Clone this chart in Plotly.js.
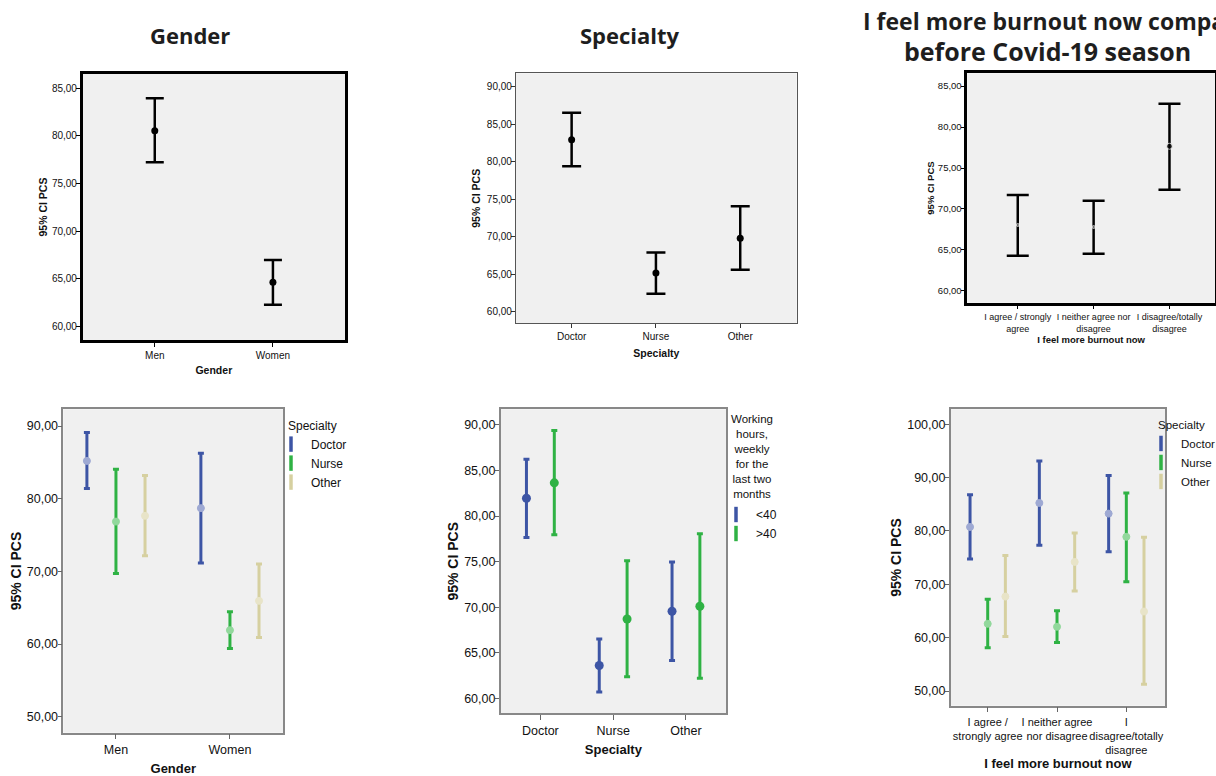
<!DOCTYPE html>
<html>
<head>
<meta charset="utf-8">
<script src="https://cdn.plot.ly/plotly-3.0.1.min.js"></script>
<style>
  html, body { margin: 0; padding: 0; background: #ffffff; overflow: hidden; }
  #chart { width: 1216px; height: 776px; }
</style>
</head>
<body>
<div id="chart"></div>
<script>
// ---------------- DATA (95% CI of PCS: mean, upper, lower) ----------------
// Panel 1: Gender
const genderCats  = ['Men', 'Women'];
const genderMean  = [80.55, 64.65];
const genderUpper = [83.95, 67.00];
const genderLower = [77.25, 62.30];

// Panel 2: Specialty
const specialtyCats  = ['Doctor', 'Nurse', 'Other'];
const specialtyMean  = [82.95, 65.15, 69.80];
const specialtyUpper = [86.55, 67.90, 74.05];
const specialtyLower = [79.40, 62.40, 65.60];

// Panel 3: burnout now vs before Covid-19
const burnoutCats  = ['I agree / strongly<br>agree', 'I neither agree nor<br>disagree', 'I disagree/totally<br>disagree'];
const burnoutMean  = [68.05, 67.80, 77.65];
const burnoutUpper = [71.70, 71.00, 82.85];
const burnoutLower = [64.30, 64.55, 72.35];

// Panel 4: Gender x Specialty
const specialtyNames = ['Doctor', 'Nurse', 'Other'];
const genderDoctorMean  = [85.20, 78.70];
const genderDoctorUpper = [89.10, 86.25];
const genderDoctorLower = [81.40, 71.15];
const genderNurseMean   = [76.85, 61.90];
const genderNurseUpper  = [84.05, 64.45];
const genderNurseLower  = [69.70, 59.40];
const genderOtherMean   = [77.65, 65.95];
const genderOtherUpper  = [83.20, 71.00];
const genderOtherLower  = [72.15, 60.90];

// Panel 5: Specialty x weekly working hours
const hoursTitle = 'Working<br>hours,<br>weekly<br>for the<br>last two<br>months';
const hoursNames = ['<40', '>40'];
const hoursUnder40Mean  = [81.95, 63.60, 69.55];
const hoursUnder40Upper = [86.25, 66.50, 74.95];
const hoursUnder40Lower = [77.65, 60.70, 64.15];
const hoursOver40Mean   = [83.65, 68.70, 70.10];
const hoursOver40Upper  = [89.40, 75.10, 78.05];
const hoursOver40Lower  = [77.95, 62.35, 62.20];

// Panel 6: burnout x Specialty
const burnout2Cats = ['I agree /<br>strongly agree', 'I neither agree<br>nor disagree', 'I<br>disagree/totally<br>disagree'];
const burnDoctorMean  = [80.75, 85.25, 83.25];
const burnDoctorUpper = [86.80, 93.10, 90.40];
const burnDoctorLower = [74.75, 77.30, 76.10];
const burnNurseMean   = [62.60, 62.05, 78.90];
const burnNurseUpper  = [67.20, 65.05, 87.10];
const burnNurseLower  = [58.10, 59.10, 70.50];
const burnOtherMean   = [67.70, 74.20, 64.90];
const burnOtherUpper  = [75.40, 79.60, 78.80];
const burnOtherLower  = [60.20, 68.75, 51.25];

// ---------------- STYLE ----------------
const W = 1216, H = 776;
const SANS = '"Liberation Sans", Arial, sans-serif';
const TITLE_FONT = '"Open Sans", Lato, sans-serif';
const BLUE = '#3d55a5', GREEN = '#2fb244', TAN = '#d6d0a0';
const BLUE_L = '#9ea9d3', GREEN_L = '#92d89c', TAN_L = '#e8e4c8';

function xd(a, b) { return [a / W, b / W]; }
function yd(top, bottom) { return [1 - bottom / H, 1 - top / H]; }

function ciTrace(o) {
  return {
    type: 'scatter', mode: 'markers',
    x: o.x, y: o.mean, xaxis: o.xaxis, yaxis: o.yaxis,
    name: o.name, showlegend: false,
    offsetgroup: o.group, alignmentgroup: o.xaxis,
    marker: o.marker, hoverinfo: 'x+y',
    error_y: {
      type: 'data', symmetric: false, visible: true,
      array: o.upper.map((u, i) => u - o.mean[i]),
      arrayminus: o.lower.map((l, i) => o.mean[i] - l),
      color: o.barColor, thickness: o.thick, width: o.capW
    }
  };
}
// legend-only entry (no visible point) drawn with an error-bar-like "I" symbol
function legendTrace(o) {
  return {
    type: 'scatter', mode: 'markers', x: [null], y: [null],
    xaxis: o.xaxis, yaxis: o.yaxis, name: o.name, legend: o.legend,
    showlegend: true, offsetgroup: o.group, alignmentgroup: o.xaxis,
    marker: { symbol: 'line-ns-open', size: 11, color: o.color, line: { width: 3.5, color: o.color } },
    hoverinfo: 'skip'
  };
}

const traces = [];
// Panel 1
traces.push(ciTrace({ x: genderCats, mean: genderMean, upper: genderUpper, lower: genderLower,
  xaxis: 'x', yaxis: 'y', name: 'Gender', group: 'g1',
  marker: { color: '#000', size: 7 }, barColor: '#000', thick: 2.5, capW: 9 }));
// Panel 2
traces.push(ciTrace({ x: specialtyCats, mean: specialtyMean, upper: specialtyUpper, lower: specialtyLower,
  xaxis: 'x2', yaxis: 'y2', name: 'Specialty', group: 'g1',
  marker: { color: '#000', size: 7 }, barColor: '#000', thick: 2.5, capW: 9.5 }));
// Panel 3
traces.push(ciTrace({ x: burnoutCats, mean: burnoutMean, upper: burnoutUpper, lower: burnoutLower,
  xaxis: 'x3', yaxis: 'y3', name: 'Burnout', group: 'g1',
  marker: { color: ['#8a8a8a', '#8a8a8a', '#000'], size: [3, 3, 6] }, barColor: '#000', thick: 2.5, capW: 11 }));

// Panel 4
const p4 = [
  [genderDoctorMean, genderDoctorUpper, genderDoctorLower, BLUE, BLUE_L],
  [genderNurseMean, genderNurseUpper, genderNurseLower, GREEN, GREEN_L],
  [genderOtherMean, genderOtherUpper, genderOtherLower, TAN, TAN_L]
];
p4.forEach((s, k) => {
  traces.push(ciTrace({ x: genderCats, mean: s[0], upper: s[1], lower: s[2],
    xaxis: 'x4', yaxis: 'y4', name: specialtyNames[k], group: specialtyNames[k],
    marker: { color: s[4], size: 7, line: { width: 1, color: s[4] } }, barColor: s[3], thick: 3, capW: 3 }));
});
p4.forEach((s, k) => traces.push(legendTrace({ xaxis: 'x4', yaxis: 'y4', name: specialtyNames[k], group: specialtyNames[k], legend: 'legend', color: s[3] })));

// Panel 5
const p5 = [
  [hoursUnder40Mean, hoursUnder40Upper, hoursUnder40Lower, BLUE],
  [hoursOver40Mean, hoursOver40Upper, hoursOver40Lower, GREEN]
];
p5.forEach((s, k) => {
  traces.push(ciTrace({ x: specialtyCats, mean: s[0], upper: s[1], lower: s[2],
    xaxis: 'x5', yaxis: 'y5', name: hoursNames[k], group: 'h' + k,
    marker: { color: s[3], size: 9 }, barColor: s[3], thick: 3, capW: 3 }));
});
p5.forEach((s, k) => traces.push(legendTrace({ xaxis: 'x5', yaxis: 'y5', name: hoursNames[k], group: 'h' + k, legend: 'legend2', color: s[3] })));

// Panel 6
const p6 = [
  [burnDoctorMean, burnDoctorUpper, burnDoctorLower, BLUE, BLUE_L],
  [burnNurseMean, burnNurseUpper, burnNurseLower, GREEN, GREEN_L],
  [burnOtherMean, burnOtherUpper, burnOtherLower, TAN, TAN_L]
];
p6.forEach((s, k) => {
  traces.push(ciTrace({ x: burnout2Cats, mean: s[0], upper: s[1], lower: s[2],
    xaxis: 'x6', yaxis: 'y6', name: specialtyNames[k], group: specialtyNames[k],
    marker: { color: s[4], size: 7, line: { width: 1, color: s[4] } }, barColor: s[3], thick: 3, capW: 3 }));
});
p6.forEach((s, k) => traces.push(legendTrace({ xaxis: 'x6', yaxis: 'y6', name: specialtyNames[k], group: specialtyNames[k], legend: 'legend3', color: s[3] })));

// ---------------- AXES ----------------
function xAxis(o) {
  return {
    domain: o.domain, anchor: o.anchor, type: 'category', range: o.range,
    showline: true, mirror: true, linecolor: o.lc, linewidth: o.lw,
    ticks: 'outside', ticklen: o.tl, tickwidth: 1, tickcolor: o.tc, tickangle: 0,
    showgrid: false, zeroline: false, automargin: false, fixedrange: true,
    tickfont: { family: SANS, size: o.tfs, color: '#111' },
    title: { text: '<b>' + o.title + '</b>', font: { family: SANS, size: o.tts, color: '#111' }, standoff: o.standoff }
  };
}
function yAxis(o) {
  return {
    domain: o.domain, anchor: o.anchor, type: 'linear', range: o.range,
    tick0: 0, dtick: o.dtick, tickformat: '.2f',
    showline: true, mirror: true, linecolor: o.lc, linewidth: o.lw,
    ticks: 'outside', ticklen: 4, tickwidth: 1, tickcolor: o.tc, ticklabelstandoff: -3,
    showgrid: false, zeroline: false, automargin: false, fixedrange: true,
    tickfont: { family: SANS, size: o.tfs, color: '#111' },
    title: { text: '<b>95% CI PCS</b>', font: { family: SANS, size: o.tts, color: '#111' }, standoff: o.standoff }
  };
}

const legendBase = (x, y, title, indent, fs) => {
  const lg = {
    x: x / W, y: 1 - y / H, xanchor: 'left', yanchor: 'top',
    bgcolor: 'rgba(0,0,0,0)', borderwidth: 0, itemwidth: 30, indentation: indent,
    font: { family: SANS, size: fs, color: '#111' },
    tracegroupgap: 0, itemclick: false, itemdoubleclick: false
  };
  if (title) lg.title = { text: title, side: 'top', font: { family: SANS, size: fs, color: '#111' } };
  return lg;
};

const layout = {
  width: W, height: H,
  margin: { l: 0, r: 0, t: 0, b: 0, autoexpand: false },
  paper_bgcolor: '#ffffff', plot_bgcolor: '#f0f0f0',
  separators: ',.',
  scattermode: 'group', scattergap: 0.235,
  showlegend: true,
  font: { family: SANS, color: '#111' },
  xaxis:  xAxis({ domain: xd(82.7, 345), anchor: 'y', range: [-0.61, 1.61], lc: '#000', lw: 2.5, tc: '#000', tl: 4, tfs: 10, tts: 10.5, title: 'Gender', standoff: 7 }),
  yaxis:  yAxis({ domain: yd(74, 340), anchor: 'x', range: [58.6, 86.5], dtick: 5, lc: '#000', lw: 2.5, tc: '#000', tfs: 10, tts: 10.5, standoff: 3 }),
  xaxis2: xAxis({ domain: xd(516, 796.7), anchor: 'y2', range: [-0.66, 2.67], lc: '#555', lw: 1.2, tc: '#333', tl: 4, tfs: 10, tts: 10.5, title: 'Specialty', standoff: 8 }),
  yaxis2: yAxis({ domain: yd(73.3, 323.3), anchor: 'x2', range: [58.45, 91.8], dtick: 5, lc: '#555', lw: 1.2, tc: '#333', tfs: 10, tts: 10.5, standoff: 4 }),
  xaxis3: xAxis({ domain: xd(967.3, 1215), anchor: 'y3', range: [-0.665, 2.6], lc: '#000', lw: 2.5, tc: '#000', tl: 4, tfs: 9, tts: 9.5, title: 'I feel more burnout now', standoff: 4 }),
  yaxis3: yAxis({ domain: yd(73.3, 302.7), anchor: 'x3', range: [58.57, 86.55], dtick: 5, lc: '#000', lw: 2.5, tc: '#000', tfs: 9.5, tts: 9.5, standoff: 2 }),
  xaxis4: xAxis({ domain: xd(63.3, 283.3), anchor: 'y4', range: [-0.462, 1.468], lc: '#888', lw: 1.5, tc: '#666', tl: 5, tfs: 12.5, tts: 13, title: 'Gender', standoff: 10 }),
  yaxis4: yAxis({ domain: yd(409.3, 732.7), anchor: 'x4', range: [47.8, 92.3], dtick: 10, lc: '#888', lw: 1.5, tc: '#666', tfs: 12.5, tts: 14, standoff: 2 }),
  xaxis5: xAxis({ domain: xd(500.7, 726), anchor: 'y5', range: [-0.545, 2.55], lc: '#888', lw: 1.5, tc: '#666', tl: 5, tfs: 12.5, tts: 13, title: 'Specialty', standoff: 8 }),
  yaxis5: yAxis({ domain: yd(409.3, 713.3), anchor: 'x5', range: [58.35, 91.72], dtick: 5, lc: '#888', lw: 1.5, tc: '#666', tfs: 12.5, tts: 14, standoff: 2 }),
  xaxis6: xAxis({ domain: xd(950.7, 1165), anchor: 'y6', range: [-0.534, 2.558], lc: '#888', lw: 1.5, tc: '#666', tl: 5, tfs: 11, tts: 13, title: 'I feel more burnout now', standoff: 4 }),
  yaxis6: yAxis({ domain: yd(409.3, 705.7), anchor: 'x6', range: [47.25, 102.8], dtick: 10, lc: '#888', lw: 1.5, tc: '#666', tfs: 12.5, tts: 14, standoff: 2 }),
  legend:  legendBase(286, 414, 'Specialty', -15, 12),
  legend2: legendBase(731, 500, null, -15, 12),
  legend3: legendBase(1156, 414, 'Specialty', -15, 11.5),
  annotations: [
    { text: '<b>Gender</b>', xref: 'paper', yref: 'paper', x: 190.4 / W, y: 1 - 35.5 / H, xanchor: 'center', yanchor: 'middle', showarrow: false, font: { family: TITLE_FONT, size: 22, color: '#1e1e1e' } },
    { text: '<b>Specialty</b>', xref: 'paper', yref: 'paper', x: 630 / W, y: 1 - 35.5 / H, xanchor: 'center', yanchor: 'middle', showarrow: false, font: { family: TITLE_FONT, size: 22, color: '#1e1e1e' } },
    { text: '<b>I feel more burnout now compared to</b>', xref: 'paper', yref: 'paper', x: 862 / W, y: 1 - 21 / H, xanchor: 'left', yanchor: 'middle', showarrow: false, borderpad: 0, font: { family: TITLE_FONT, size: 23, color: '#1e1e1e' } },
    { text: '<b>before Covid-19 season</b>', xref: 'paper', yref: 'paper', x: 1047.5 / W, y: 1 - 51 / H, xanchor: 'center', yanchor: 'middle', showarrow: false, borderpad: 0, font: { family: TITLE_FONT, size: 25, color: '#1e1e1e' } },
    // legend title of panel 5 (centred, multi-line)
    { text: hoursTitle, xref: 'paper', yref: 'paper', x: 751.7 / W, y: 1 - 456.8 / H, xanchor: 'center', yanchor: 'middle', align: 'center', showarrow: false, borderpad: 0, font: { family: SANS, size: 11.5, color: '#111' } }
  ]
};

Plotly.newPlot('chart', traces, layout, { displayModeBar: false, responsive: false });
</script>
</body>
</html>
